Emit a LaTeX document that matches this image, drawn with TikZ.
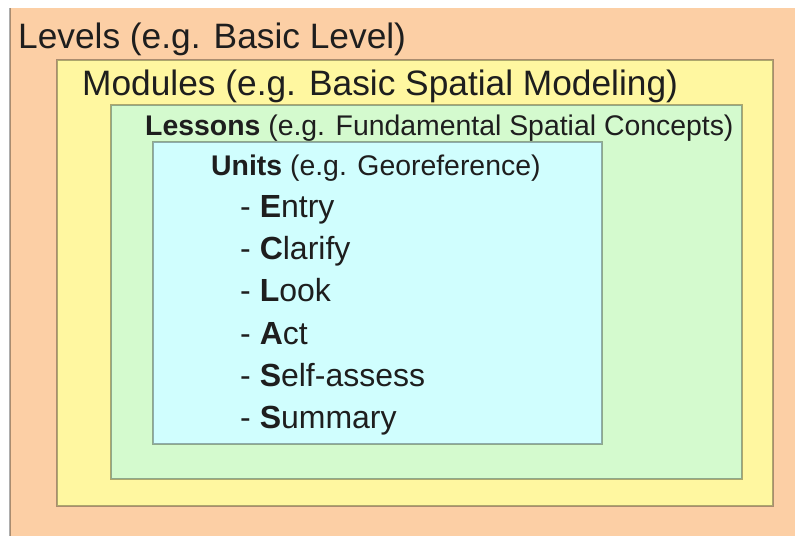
\documentclass[tikz,border=0pt]{standalone}
\usepackage{fontspec}
\setmainfont{Liberation Sans}
\definecolor{levelfill}{RGB}{252,207,165}
\definecolor{modulefill}{RGB}{255,247,160}
\definecolor{lessonfill}{RGB}{212,250,206}
\definecolor{unitfill}{RGB}{208,254,254}
\definecolor{inktext}{RGB}{30,30,30}
\tikzset{
  panel/.style={draw=black, draw opacity=0.32, line width=1.6pt},
  bigtitle/.style={anchor=base west, inner sep=0pt, text=inktext,
    font=\fontsize{35.3}{40}\selectfont},
  midtitle/.style={anchor=base west, inner sep=0pt, text=inktext,
    font=\fontsize{28.4}{32}\selectfont},
  stepitem/.style={anchor=base west, inner sep=0pt, text=inktext,
    font=\fontsize{32}{36}\selectfont},
}
\begin{document}
\begin{tikzpicture}[x=1pt,y=-1pt]
  \useasboundingbox[fill=white] (0,0) rectangle (795,536);
  % nested panels, outermost first
  \fill[levelfill] (10,8) rectangle (795,536);
  \draw[draw=black, draw opacity=0.32, line width=1.6pt] (10,8) -- (10,536);
  \path[panel, fill=modulefill] (57,60) rectangle (773,506);
  \path[panel, fill=lessonfill] (111,105) rectangle (742,479);
  \path[panel, fill=unitfill] (153,142) rectangle (602,444);
  % panel titles
  \node[bigtitle] (levels) at (18,48) {Levels (e.g. Basic Level)};
  \node[bigtitle] (modules) at (82,95) {Modules (e.g. Basic Spatial Modeling)};
  \node[midtitle] (lessons) at (145,135) {\textbf{Lessons} (e.g. Fundamental Spatial Concepts)};
  \node[midtitle] (units) at (211,175) {\textbf{Units} (e.g. Georeference)};
  % unit steps
  \node[stepitem] (entry)   at (240,217) {- \textbf{E}ntry};
  \node[stepitem] (clarify) at (240,259) {- \textbf{C}larify};
  \node[stepitem] (look)    at (240,301) {- \textbf{L}ook};
  \node[stepitem] (act)     at (240,344) {- \textbf{A}ct};
  \node[stepitem] (selfas)  at (240,386) {- \textbf{S}elf-assess};
  \node[stepitem] (summary) at (240,428) {- \textbf{S}ummary};
\end{tikzpicture}
\end{document}
